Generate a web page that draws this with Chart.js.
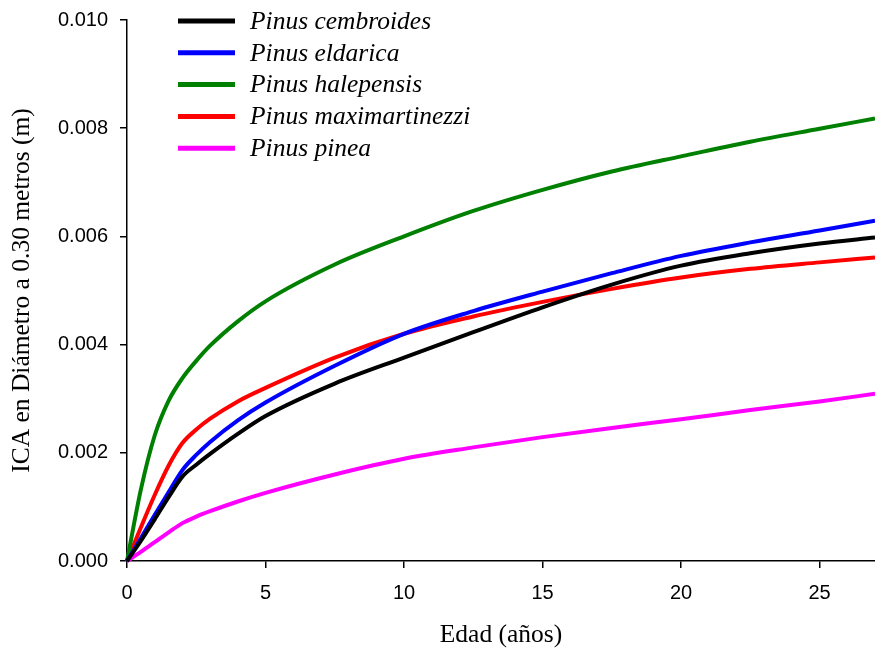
<!DOCTYPE html>
<html>
<head>
<meta charset="utf-8">
<script src="https://cdn.jsdelivr.net/npm/chart.js@4"></script>
<style>
  html, body { margin: 0; padding: 0; background: #fff; }
  #wrap { width: 875px; height: 656px; position: relative; }
</style>
</head>
<body>
<div id="wrap"><canvas id="icaChart"></canvas></div>
<script>
const ages = [0, 0.5, 1, 1.5, 2, 2.5, 3, 4, 5, 7.5, 10, 12.5, 15, 17.5, 20, 22.5, 25, 27];

// ICA in diameter at 0.30 m (m)
const cembroides     = [0, 0.00037, 0.00077, 0.00118, 0.00156, 0.00178, 0.00198, 0.00235, 0.00268, 0.00328, 0.00376, 0.00423, 0.00469, 0.00511, 0.00546, 0.00569, 0.00587, 0.00598];
const eldarica       = [0, 0.00042, 0.00085, 0.00127, 0.00168, 0.00196, 0.00220, 0.00260, 0.00293, 0.00361, 0.00420, 0.00462, 0.00498, 0.00532, 0.00564, 0.00589, 0.00611, 0.00629];
const halepensis     = [0, 0.00132, 0.00232, 0.00296, 0.00338, 0.00370, 0.00398, 0.00443, 0.00480, 0.00548, 0.00600, 0.00647, 0.00686, 0.00720, 0.00748, 0.00775, 0.00799, 0.00818];
const maximartinezzi = [0, 0.00062, 0.00122, 0.00176, 0.00218, 0.00243, 0.00263, 0.00295, 0.00320, 0.00376, 0.00420, 0.00452, 0.00479, 0.00503, 0.00524, 0.00540, 0.00552, 0.00561];
const pinea          = [0, 0.00017, 0.00035, 0.00053, 0.00070, 0.00082, 0.00092, 0.00110, 0.00126, 0.00160, 0.00189, 0.00210, 0.00229, 0.00246, 0.00262, 0.00279, 0.00295, 0.00309];

const seriesNames  = ["Pinus cembroides", "Pinus eldarica", "Pinus halepensis", "Pinus maximartinezzi", "Pinus pinea"];
const seriesColors = ["#000000", "#0000ff", "#008000", "#ff0000", "#ff00ff"];

const xTicks = [0, 5, 10, 15, 20, 25];

function toPoints(values) {
  return ages.map((a, i) => ({ x: a, y: values[i] }));
}

const allSeries = [cembroides, eldarica, halepensis, maximartinezzi, pinea];

const datasets = allSeries.map((vals, i) => ({
  label: seriesNames[i],
  data: toPoints(vals),
  borderColor: seriesColors[i],
  backgroundColor: seriesColors[i],
  borderWidth: 4,
  pointRadius: 0,
  cubicInterpolationMode: "monotone",
  fill: false,
  clip: false,
}));

// legend drawn inside the plot, top-left
const insideLegend = {
  id: "insideLegend",
  afterDraw(chart) {
    const ctx = chart.ctx;
    ctx.save();
    ctx.font = "italic 25.5px 'Liberation Serif', 'Times New Roman', serif";
    ctx.textBaseline = "middle";
    ctx.textAlign = "left";
    chart.data.datasets.forEach((ds, i) => {
      const y = 21 + i * 31.8;
      ctx.strokeStyle = ds.borderColor;
      ctx.lineWidth = 5;
      ctx.beginPath();
      ctx.moveTo(178, y);
      ctx.lineTo(235, y);
      ctx.stroke();
      ctx.fillStyle = "#000";
      ctx.fillText(ds.label, 250, y + 1);
    });
    ctx.restore();
  },
};

new Chart(document.getElementById("icaChart"), {
  type: "line",
  data: { datasets },
  options: {
    responsive: true,
    maintainAspectRatio: false,
    animation: false,
    layout: { padding: { top: 20, right: 0, bottom: 0, left: 0 } },
    plugins: {
      legend: { display: false },
      tooltip: { enabled: false },
    },
    scales: {
      x: {
        type: "linear",
        min: 0,
        max: 27,
        afterBuildTicks: (scale) => {
          scale.ticks = xTicks.map((v) => ({ value: v }));
        },
        afterFit: (scale) => {
          scale.height = 95;
          scale.paddingLeft = 0;
          scale.paddingRight = 0;
        },
        grid: {
          drawOnChartArea: false,
          drawTicks: true,
          tickLength: 7,
          color: "#000",
          lineWidth: 1.5,
        },
        border: { display: true, color: "#000", width: 1.5 },
        ticks: {
          padding: 13,
          color: "#000",
          font: { family: "'Liberation Sans', Arial, sans-serif", size: 20 },
        },
        title: {
          display: true,
          text: "Edad (años)",
          color: "#000",
          font: { family: "'Liberation Serif', 'Times New Roman', serif", size: 25.5 },
          padding: { top: 4, bottom: 5 },
        },
      },
      y: {
        type: "linear",
        min: 0,
        max: 0.01,
        afterFit: (scale) => {
          scale.width = 127;
          scale.paddingTop = 0;
          scale.paddingBottom = 0;
        },
        grid: {
          drawOnChartArea: false,
          drawTicks: true,
          tickLength: 7,
          color: "#000",
          lineWidth: 1.5,
        },
        border: { display: true, color: "#000", width: 1.5 },
        ticks: {
          stepSize: 0.002,
          padding: 12,
          color: "#000",
          font: { family: "'Liberation Sans', Arial, sans-serif", size: 20 },
          callback: (v) => v.toFixed(3),
        },
        title: {
          display: true,
          text: "ICA en Diámetro a 0.30 metros (m)",
          color: "#000",
          font: { family: "'Liberation Serif', 'Times New Roman', serif", size: 25.5 },
          padding: { top: 7, bottom: 4 },
        },
      },
    },
  },
  plugins: [insideLegend],
});
</script>
</body>
</html>
